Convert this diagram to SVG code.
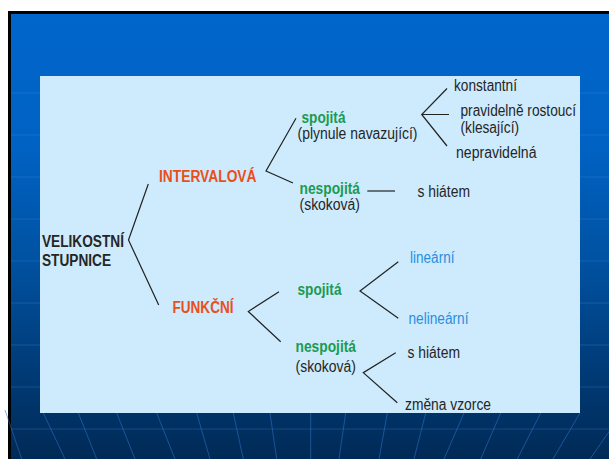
<svg xmlns="http://www.w3.org/2000/svg" width="609" height="459" viewBox="0 0 609 459">
<defs>
<linearGradient id="bg" gradientUnits="userSpaceOnUse" x1="0" y1="14" x2="0" y2="459">
<stop offset="0" stop-color="#0066cc"/>
<stop offset="0.3" stop-color="#0062c3"/>
<stop offset="0.55" stop-color="#0052a2"/>
<stop offset="0.8" stop-color="#003b77"/>
<stop offset="1" stop-color="#002a56"/>
</linearGradient>
<style>
text{font-family:"Liberation Sans",Arial,sans-serif;font-size:16px}
.dk{fill:#262626}
.b{font-weight:bold}
.or{fill:#ea4f1a;font-weight:bold}
.gr{fill:#1c9a52;font-weight:bold}
.bl{fill:#2a8ee0}
.hl{stroke:#4a8ee0;stroke-opacity:0.28;stroke-width:1;fill:none}
.pl{stroke:#2f74c8;stroke-opacity:0.55;stroke-width:1;fill:none}
.cn{stroke:#222;stroke-width:1.2;fill:none}
</style>
</defs>
<rect x="0" y="0" width="609" height="459" fill="#ffffff"/>
<g id="background">
<rect x="9.5" y="12.5" width="620" height="460" fill="url(#bg)" stroke="#000000" stroke-width="3"/>
<g class="hl">
<path d="M11 93H609M11 135H609M11 177H609M11 219H609M11 261H609M11 303H609M11 345H609M11 387H609M11 429H609"/>
</g>
<g class="pl">
<path d="M5 410L21.7 459M43.3 413L65 459M78.3 413L96.7 459M116.7 413L135 459M156.7 413L175 459M196.7 413L210 459M233.3 413L243.3 459M270 413L276.7 459M310.7 413L310.7 459M345.7 413L339 459M387.3 413L379 459M425.7 413L414 459M464 413L444 459M500.7 413L480.7 459M540.7 413L517.3 459M580 413L553 459M622 413L590 459"/>
</g>
</g>
<rect id="panel" x="40" y="76" width="540" height="337" fill="#cdebfd"/>
<g id="connectors" class="cn">
<path d="M148.3 184L128.5 240L158.7 305"/>
<path d="M296 118.3L266 171L293 183"/>
<path d="M447 88.5L421.7 114.5L447 146M421.7 114.5H449"/>
<path d="M367.3 191H395"/>
<path d="M279 291.7L248.3 311.5L280.7 341.7"/>
<path d="M398.3 261.7L360 291L398.3 318.3"/>
<path d="M395.7 352.7L363.3 372.7L397.3 402.7"/>
</g>
<g id="n-velikostni"><text class="dk b" x="42" y="247" textLength="82" lengthAdjust="spacingAndGlyphs">VELIKOSTNÍ</text><text class="dk b" x="42" y="266" textLength="69" lengthAdjust="spacingAndGlyphs">STUPNICE</text></g>
<g id="n-intervalova"><text class="or" x="159" y="182" textLength="97.5" lengthAdjust="spacingAndGlyphs">INTERVALOVÁ</text></g>
<g id="n-funkcni"><text class="or" x="172.5" y="313" textLength="61" lengthAdjust="spacingAndGlyphs">FUNKČNÍ</text></g>
<g id="n-i-spojita"><text class="gr" x="301.5" y="123" textLength="44" lengthAdjust="spacingAndGlyphs">spojitá</text><text class="dk" x="297.5" y="139" textLength="120" lengthAdjust="spacingAndGlyphs">(plynule navazující)</text></g>
<g id="n-i-nespojita"><text class="gr" x="299.5" y="194" textLength="60.5" lengthAdjust="spacingAndGlyphs">nespojitá</text><text class="dk" x="299.5" y="210" textLength="60.5" lengthAdjust="spacingAndGlyphs">(skoková)</text></g>
<g id="n-i-hiatem"><text class="dk" x="417.5" y="197" textLength="52.5" lengthAdjust="spacingAndGlyphs">s hiátem</text></g>
<g id="n-konstantni"><text class="dk" x="454" y="91" textLength="63" lengthAdjust="spacingAndGlyphs">konstantní</text></g>
<g id="n-pravidelne"><text class="dk" x="460.5" y="116" textLength="115.5" lengthAdjust="spacingAndGlyphs">pravidelně rostoucí</text><text class="dk" x="460.5" y="132.5" textLength="58.5" lengthAdjust="spacingAndGlyphs">(klesající)</text></g>
<g id="n-nepravidelna"><text class="dk" x="456" y="157.5" textLength="80.5" lengthAdjust="spacingAndGlyphs">nepravidelná</text></g>
<g id="n-f-spojita"><text class="gr" x="297.5" y="295" textLength="44" lengthAdjust="spacingAndGlyphs">spojitá</text></g>
<g id="n-linearni"><text class="bl" x="410" y="263" textLength="44.5" lengthAdjust="spacingAndGlyphs">lineární</text></g>
<g id="n-nelinearni"><text class="bl" x="408.5" y="323.5" textLength="60" lengthAdjust="spacingAndGlyphs">nelineární</text></g>
<g id="n-f-nespojita"><text class="gr" x="295.5" y="352" textLength="60.5" lengthAdjust="spacingAndGlyphs">nespojitá</text><text class="dk" x="295.5" y="371.5" textLength="60.5" lengthAdjust="spacingAndGlyphs">(skoková)</text></g>
<g id="n-f-hiatem"><text class="dk" x="407.5" y="357.5" textLength="52.5" lengthAdjust="spacingAndGlyphs">s hiátem</text></g>
<g id="n-zmena"><text class="dk" x="405" y="410" textLength="86" lengthAdjust="spacingAndGlyphs">změna vzorce</text></g>
</svg>
